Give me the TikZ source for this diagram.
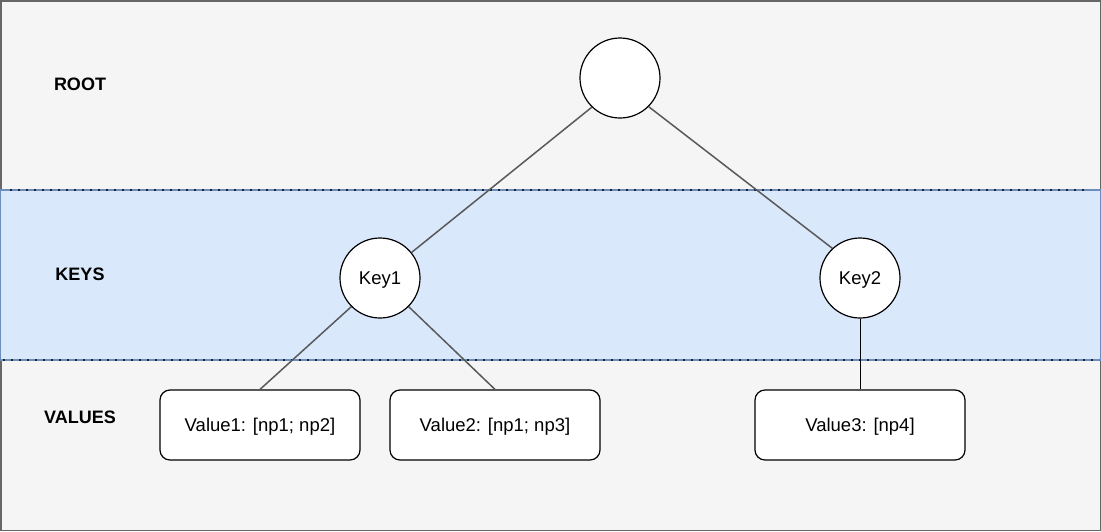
\documentclass[tikz,border=0pt]{standalone}
\usepackage{fontspec}
\setmainfont{Liberation Sans}
\definecolor{pagebg}{HTML}{F5F5F5}
\definecolor{pageedge}{HTML}{666666}
\definecolor{bandfill}{HTML}{DAE8FC}
\definecolor{bandedge}{HTML}{6C8EBF}
\definecolor{linkgray}{HTML}{595959}
\definecolor{dotcol}{HTML}{222222}
\begin{document}
\begin{tikzpicture}[x=1pt,y=-1pt,
  treenode/.style={circle,draw=black,fill=white,line width=1.2pt,
    minimum size=80pt,inner sep=0pt,font=\fontsize{18.5}{21}\selectfont,
    text height=13.2pt,text depth=0pt},
  valbox/.style={rectangle,rounded corners=10pt,draw=black,fill=white,
    line width=1.2pt,minimum width=210pt,minimum height=70pt,inner sep=0pt,
    font=\fontsize{18.5}{21}\selectfont,text height=13.2pt,text depth=0pt},
  lvl/.style={font=\bfseries\fontsize{18}{21}\selectfont,inner sep=0pt,
    text height=12.9pt,text depth=0pt},
  link/.style={draw=linkgray,line width=1.5pt},
  sep/.style={draw=dotcol,line width=2.2pt,dash pattern=on 2pt off 6pt}]
\useasboundingbox (0,0) rectangle (1101,531);
% page background and the highlighted keys band
\draw[fill=pagebg,draw=pageedge,line width=1.5pt] (0.75,0.75) rectangle (1100.25,530.25);
\draw[fill=bandfill,draw=bandedge,line width=1.2pt] (0.75,190) rectangle (1100.25,360);
\coordinate (s1a) at (10,190);
\coordinate (s1b) at (1086,190);
\coordinate (s2a) at (3,360);
\coordinate (s2b) at (1099,360);
\draw[sep] (s1a) -- (s1b);
\draw[sep] (s2a) -- (s2b);
% level labels
\node[lvl] (lroot) at (80,84) {ROOT};
\node[lvl] (lkeys) at (80,274) {KEYS};
\node[lvl] (lvals) at (80,417) {VALUES};
% tree
\node[treenode] (root) at (620,78) {};
\node[treenode] (key1) at (380,278) {Key1};
\node[treenode] (key2) at (860,278) {Key2};
\node[valbox,minimum width=200pt] (v1) at (260,425) {Value1: [np1; np2]};
\node[valbox] (v2) at (495,425) {Value2: [np1; np3]};
\node[valbox] (v3) at (860,425) {Value3: [np4]};
% connectors
\draw[link] (root.-134) -- (key1.39);
\draw[link] (root.-45) -- (key2.133);
\draw[link] (key1.-135) -- (v1.north);
\draw[link] (key1.-45) -- (v2.north);
\draw[draw=black,line width=1pt] (key2.south) -- (v3.north);
\end{tikzpicture}
\end{document}
